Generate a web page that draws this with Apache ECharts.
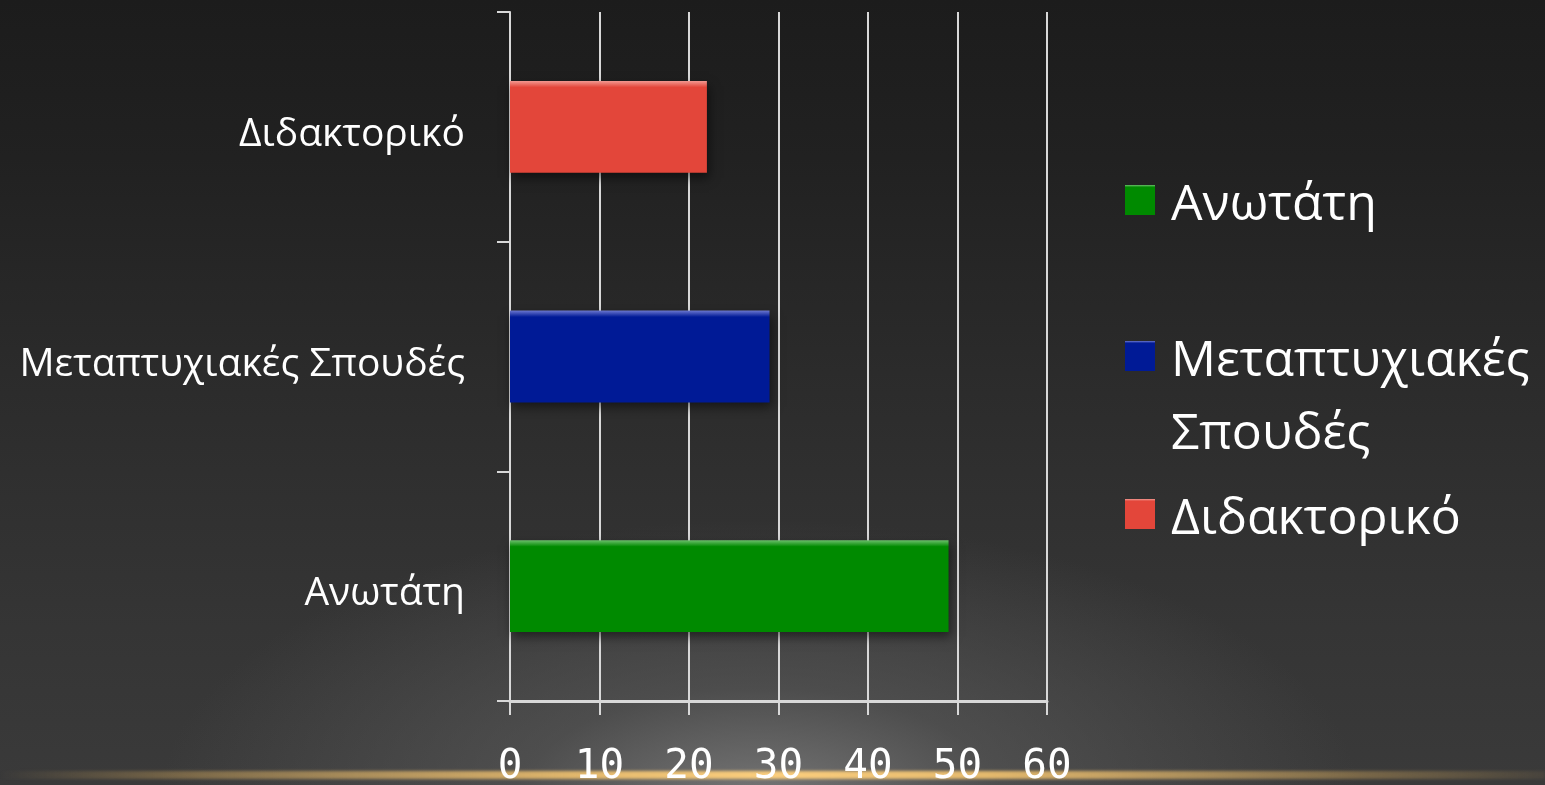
<!DOCTYPE html>
<html>
<head>
<meta charset="utf-8">
<script src="https://cdn.jsdelivr.net/npm/echarts@6/dist/echarts.min.js"></script>
<style>
  html, body { margin: 0; padding: 0; }
  body {
    width: 1545px; height: 785px; overflow: hidden; position: relative;
    background:
      radial-gradient(ellipse 600px 280px at 760px 800px, rgba(125,125,125,0.9) 0%, rgba(95,95,95,0.55) 40%, rgba(60,60,60,0) 100%),
      linear-gradient(to bottom, #1c1c1c 0%, #212121 20%, #2c2c2c 50%, #353535 80%, #3a3a3a 100%);
  }
  #gold {
    position: absolute; left: 0; top: 771px; width: 1545px; height: 8px;
    background: linear-gradient(to right, rgba(200,160,90,0) 0%, rgba(200,160,90,0.45) 12%, rgba(235,190,110,0.95) 38%, rgba(250,205,125,1) 50%, rgba(235,190,110,0.95) 64%, rgba(200,160,90,0.45) 88%, rgba(200,160,90,0.1) 100%);
    filter: blur(1.8px);
  }
  #chart { position: absolute; left: 0; top: 0; width: 1545px; height: 785px; }
</style>
</head>
<body>
<div id="gold"></div>
<div id="chart"></div>
<script>
// ---- data ----
var categories = ['Ανωτάτη', 'Μεταπτυχιακές Σπουδές', 'Διδακτορικό'];
var values = [49, 29, 22];
var xTicks = [0, 10, 20, 30, 40, 50, 60];
var seriesColors = ['#008A00', '#001A96', '#E3463A'];
var seriesLight = ['#6CC06C', '#6C78D0', '#F29A92'];

var chart = echarts.init(document.getElementById('chart'), null, { renderer: 'canvas' });

function barColor(i) {
  return new echarts.graphic.LinearGradient(0, 0, 0, 1, [
    { offset: 0, color: seriesLight[i] },
    { offset: 0.07, color: seriesColors[i] },
    { offset: 1, color: seriesColors[i] }
  ]);
}

var series = categories.map(function (name, i) {
  return {
    name: name,
    type: 'bar',
    barWidth: '40%',
    barGap: '-100%',
    data: categories.map(function (c, j) { return j === i ? values[i] : '-'; }),
    itemStyle: {
      color: barColor(i),
      shadowBlur: 10,
      shadowOffsetY: 5,
      shadowOffsetX: 2,
      shadowColor: 'rgba(0,0,0,0.5)'
    }
  };
});

var legendTops = [169, 325, 483];
var legends = categories.map(function (name, i) {
  return {
    left: 1125,
    top: legendTops[i],
    padding: 0,
    itemWidth: 30,
    itemHeight: 30,
    icon: 'rect',
    selectedMode: false,
    data: [name],
    formatter: function (n) {
      return '{t|' + (n === 'Μεταπτυχιακές Σπουδές' ? 'Μεταπτυχιακές' : n) + '}';
    },
    textStyle: {
      color: '#ffffff',
      fontFamily: 'Open Sans',
      fontSize: 50,
      rich: {
        t: {
          color: '#ffffff',
          fontFamily: 'Open Sans',
          fontSize: 50,
          lineHeight: 58,
          padding: [12, 0, 0, 11]
        }
      }
    }
  };
});

var option = {
  backgroundColor: 'transparent',
  animation: false,
  grid: { left: 510, right: 498, top: 12, bottom: 84, containLabel: false, outerBoundsMode: 'none' },
  legend: legends,
  xAxis: {
    type: 'value',
    min: xTicks[0],
    max: xTicks[xTicks.length - 1],
    interval: 10,
    axisLine: { show: true, lineStyle: { color: '#d8d8d8', width: 3 } },
    axisTick: { show: true, length: 14, lineStyle: { color: '#d8d8d8', width: 2 } },
    splitLine: { show: true, lineStyle: { color: '#d8d8d8', width: 2 } },
    axisLabel: {
      color: '#ffffff',
      fontFamily: 'DejaVu Sans Mono',
      fontSize: 41,
      margin: 46
    }
  },
  yAxis: {
    type: 'category',
    data: categories,
    axisLine: { show: true, lineStyle: { color: '#d8d8d8', width: 2 } },
    axisTick: { show: true, length: 13, lineStyle: { color: '#d8d8d8', width: 2 } },
    axisLabel: {
      color: '#ffffff',
      fontFamily: 'Open Sans',
      fontSize: 39,
      margin: 45,
      verticalAlign: 'top',
      lineHeight: 16
    },
    splitLine: { show: false }
  },
  graphic: [{
    type: 'text',
    left: 1171,
    top: 410,
    style: {
      text: 'Σπουδές',
      fill: '#ffffff',
      font: '50px "Open Sans"'
    }
  }],
  series: series
};
chart.setOption(option);
</script>
</body>
</html>
